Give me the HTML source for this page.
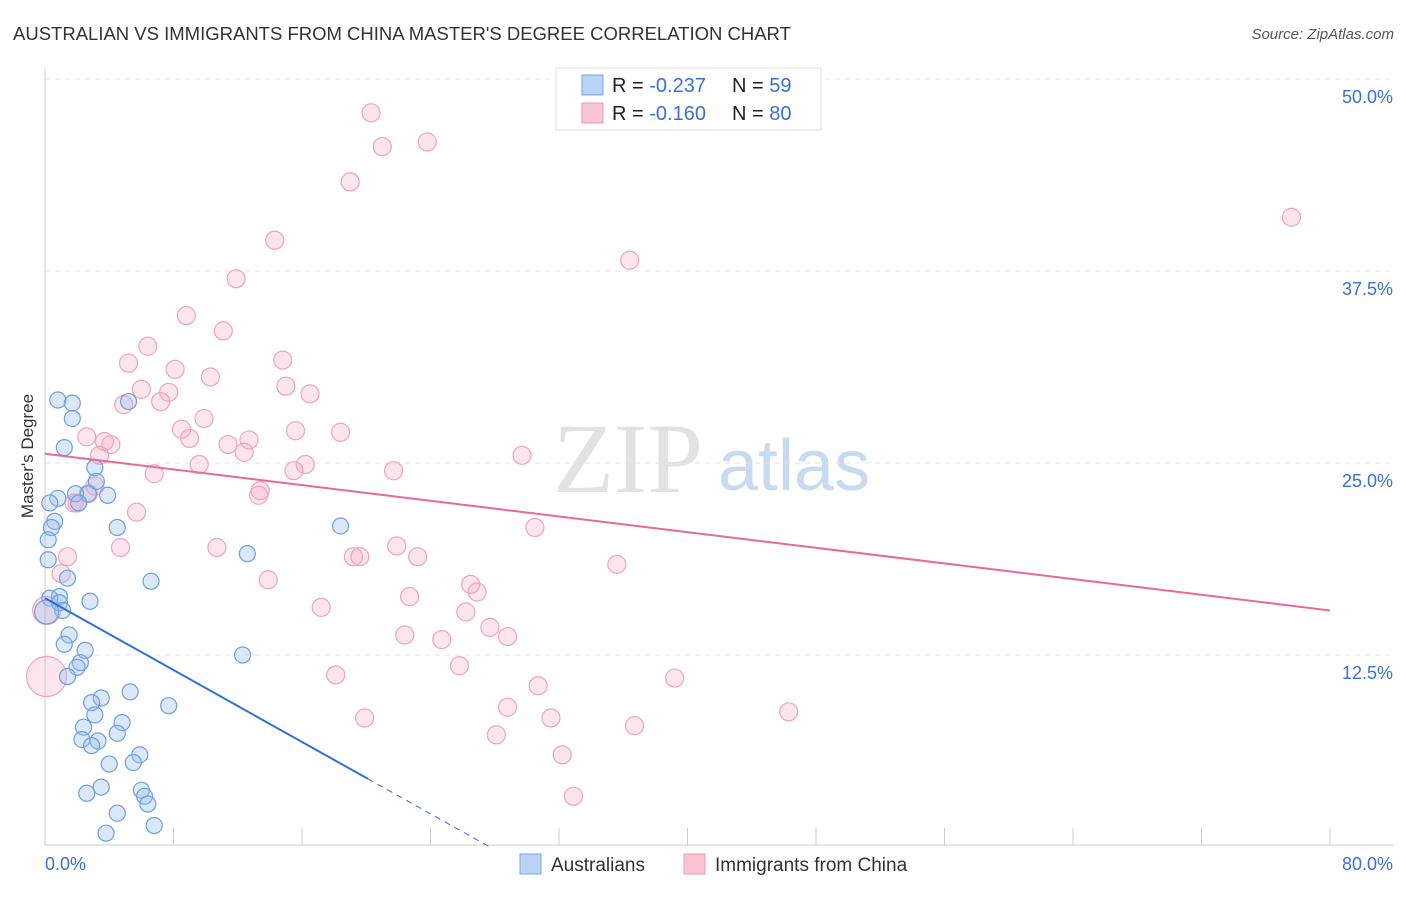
<!DOCTYPE html>
<html><head><meta charset="utf-8"><style>
body{margin:0;background:#fff;font-family:"Liberation Sans",sans-serif}
svg text{font-family:"Liberation Sans",sans-serif}
</style></head><body>
<svg id="c" width="1406" height="892" xmlns="http://www.w3.org/2000/svg">
<text x="13" y="40" font-size="18.5" fill="#333">AUSTRALIAN VS IMMIGRANTS FROM CHINA MASTER'S DEGREE CORRELATION CHART</text>
<text x="1394" y="39" font-size="15" fill="#555" font-style="italic" text-anchor="end">Source: ZipAtlas.com</text>
<text x="33" y="456" font-size="17" fill="#333" text-anchor="middle" transform="rotate(-90 33 456)">Master's Degree</text>
<g><text x="553" y="492" font-size="100" fill="#e2e2e2" style="font-family:'Liberation Serif',serif">ZIP</text><text x="718" y="490" font-size="72" fill="#c8daf2">atlas</text></g>
<g id="grid"></g><g id="pts"></g><g id="lines"></g>
<g>
<rect x="556" y="68" width="265" height="62" fill="#fff" stroke="#ddd"/>
<rect x="582" y="75" width="21" height="20" fill="#b9d3f7" stroke="#7aa6e8"/>
<rect x="582" y="103" width="21" height="20" fill="#f9c4d3" stroke="#ee97b2"/>
<text x="612" y="92" font-size="20" fill="#222">R = <tspan fill="#3b6fd4">-0.237</tspan></text>
<text x="732" y="92" font-size="20" fill="#222">N = <tspan fill="#3b6fd4">59</tspan></text>
<text x="612" y="120" font-size="20" fill="#222">R = <tspan fill="#3b6fd4">-0.160</tspan></text>
<text x="732" y="120" font-size="20" fill="#222">N = <tspan fill="#3b6fd4">80</tspan></text>
</g>
<g>
<rect x="520" y="854" width="21" height="20" fill="#b9d3f7" stroke="#7aa6e8"/>
<text x="551" y="871" font-size="19" fill="#333">Australians</text>
<rect x="684" y="854" width="21" height="20" fill="#f9c4d3" stroke="#ee97b2"/>
<text x="715" y="871" font-size="19" fill="#333">Immigrants from China</text>
</g>
</svg>
<script>
const yTicks=[12.5,25.0,37.5,50.0];
const xTickLabels=["0.0%","80.0%"];
const blueX=[0.8,1.7,1.7,1.2,3.1,3.2,2.7,1.9,3.9,0.8,0.3,2.1,0.6,0.4,4.5,0.2,0.2,1.4,6.6,0.9,0.3,0.9,2.8,1.1,1.5,1.2,2.5,2.2,2.0,1.4,12.6,18.4,5.2,12.3,3.5,2.9,5.3,7.7,3.1,4.8,2.4,4.5,2.3,3.3,2.9,5.9,4.0,5.5,3.5,2.6,6.0,6.2,6.4,4.5,6.8,3.8,0.1];
const blueY=[29.1,28.9,27.9,26.0,24.7,23.8,23.0,23.0,22.9,22.7,22.4,22.4,21.2,20.8,20.8,20.0,18.7,17.5,17.3,16.3,16.2,15.9,16.0,15.4,13.8,13.2,12.8,12.0,11.7,11.1,19.1,20.9,29.0,12.5,9.7,9.4,10.1,9.2,8.6,8.1,7.8,7.4,7.0,6.9,6.6,6.0,5.4,5.5,3.9,3.5,3.7,3.3,2.8,2.2,1.4,0.9,15.3];
const pinkX=[20.3,21.0,23.8,19.0,77.6,14.3,11.9,36.4,8.8,11.1,6.4,5.2,14.8,8.1,10.3,15.0,6.0,7.7,16.5,4.9,7.2,9.9,8.5,15.6,18.4,2.6,3.7,9.0,12.7,11.4,4.1,3.4,12.4,29.7,9.6,6.8,16.2,15.5,21.7,13.4,13.3,2.0,5.7,30.5,4.7,10.7,21.9,1.4,19.2,19.6,23.2,1.0,35.6,13.9,26.5,26.9,22.7,17.2,26.2,27.7,22.4,24.7,28.8,25.8,18.1,39.2,30.7,28.8,19.9,31.5,46.3,36.7,28.1,32.2,32.9,0.1,0.1,2.7,3.1,1.8];
const pinkY=[47.8,45.6,45.9,43.3,41.0,39.5,37.0,38.2,34.6,33.6,32.6,31.5,31.7,31.1,30.6,30.0,29.8,29.6,29.5,28.8,29.0,27.9,27.2,27.1,27.0,26.7,26.4,26.6,26.5,26.2,26.2,25.5,25.7,25.5,24.9,24.3,24.9,24.5,24.5,23.2,22.9,22.4,21.8,20.8,19.5,19.5,19.6,18.9,18.9,18.9,18.9,17.8,18.4,17.4,17.1,16.6,16.3,15.6,15.3,14.3,13.8,13.5,13.7,11.8,11.2,11.0,10.5,9.1,8.4,8.4,8.8,7.9,7.3,6.0,3.3,11.1,15.4,23.0,23.5,22.4];
const pinkR=[9,9,9,9,9,9,9,9,9,9,9,9,9,9,9,9,9,9,9,9,9,9,9,9,9,9,9,9,9,9,9,9,9,9,9,9,9,9,9,9,9,9,9,9,9,9,9,9,9,9,9,9,9,9,9,9,9,9,9,9,9,9,9,9,9,9,9,9,9,9,9,9,9,9,9,20,14,9,9,9];
const blueTrend=[16.2,-0.585];
const pinkTrend=[25.6,-0.1275];
const NS="http://www.w3.org/2000/svg";
const X=v=>45+v*1285/80, Y=v=>847-v*15.36;
function mk(t,a,p){const e=document.createElementNS(NS,t);for(const k in a)e.setAttribute(k,a[k]);p.appendChild(e);return e;}
const g=document.getElementById('grid');
yTicks.forEach(t=>{const l=mk('line',{x1:45,x2:1393,y1:Y(t),y2:Y(t),stroke:'#e2e2e2','stroke-dasharray':'5,5'},g);


const tx=mk('text',{x:1393,y:Y(t)+24,'font-size':18,fill:'#3b6fd4','text-anchor':'end'},g);tx.textContent=t.toFixed(1)+'%';

});
const topLine=mk('line',{x1:45,x2:1393,y1:79,y2:79,stroke:'#e2e2e2','stroke-dasharray':'5,5'},g);


const yAx=mk('line',{x1:45,x2:45,y1:68,y2:846,stroke:'#ccc'},g);


const ax=mk('line',{x1:45,x2:1393,y1:845,y2:845,stroke:'#ccc'},g);


for(let i=0;i<=10;i++){const tk=mk('line',{x1:X(i*8),x2:X(i*8),y1:828,y2:845,stroke:'#ccc'},g);

}
xTickLabels.forEach((s,i)=>{const tx=mk('text',{x:i?1393:45,y:870,'font-size':18,fill:'#3b6fd4','text-anchor':i?'end':'start'},g);tx.textContent=s;

});
const P=document.getElementById('pts');
pinkX.forEach((x,i)=>{const c=mk('circle',{cx:X(x),cy:Y(pinkY[i]),r:pinkR[i],fill:'rgba(246,170,195,0.3)',stroke:'#f0a3bb','stroke-width':1.2},P);

});
blueX.forEach((x,i)=>{const c=mk('circle',{cx:X(x),cy:Y(blueY[i]),r:blueX[i]===0.1?12:8,fill:'rgba(150,190,240,0.35)',stroke:'#6e9fe0','stroke-width':1.2},P);

});
const L=document.getElementById('lines');
const bEnd=20.1, bZero=-blueTrend[0]/blueTrend[1];
const b1=mk('line',{x1:X(0),y1:Y(blueTrend[0]),x2:X(bEnd),y2:Y(blueTrend[0]+blueTrend[1]*bEnd),stroke:'#2f6fd8','stroke-width':2},L);


const b2=mk('line',{x1:X(bEnd),y1:Y(blueTrend[0]+blueTrend[1]*bEnd),x2:X(bZero),y2:Y(0),stroke:'#2f6fd8','stroke-width':1,'stroke-dasharray':'6,5'},L);


const p1=mk('line',{x1:X(0),y1:Y(pinkTrend[0]),x2:X(80),y2:Y(pinkTrend[0]+pinkTrend[1]*80),stroke:'#e8699a','stroke-width':2},L);


</script>
</body></html>
